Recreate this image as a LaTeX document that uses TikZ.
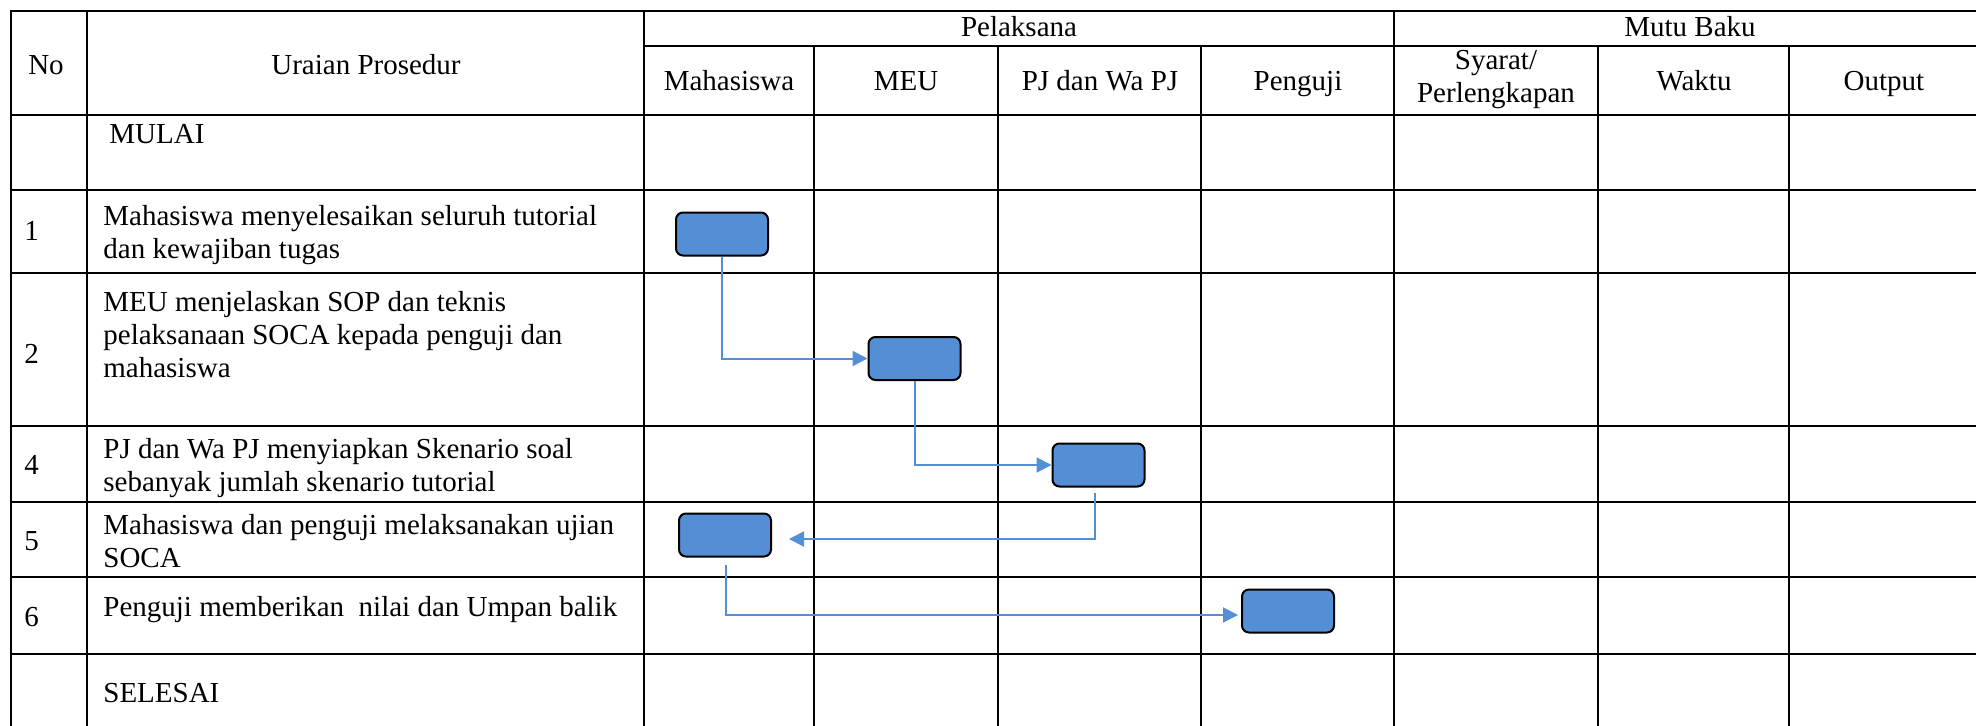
\documentclass[tikz,border=0pt]{standalone}
\usepackage{fontspec}
\setmainfont{Liberation Serif}
\usetikzlibrary{arrows.meta,calc}
\definecolor{boxblue}{RGB}{84,142,213}
\begin{document}
\begin{tikzpicture}[x=0.5pt,y=-0.5pt,
  grid/.style={line width=1pt, line cap=rect},
  txt/.style={font=\fontsize{14.5pt}{16.5pt}\selectfont, inner sep=0pt},
  hd/.style={txt, anchor=center, text height=10pt, text depth=3pt},
  hdtwo/.style={txt, anchor=center, align=center},
  body/.style={txt, anchor=north west, align=left},
  line/.style={txt, anchor=base west},
  num/.style={txt, anchor=west},
  task/.style={draw=black, line width=1pt, fill=boxblue, rounded corners=3.5pt,
    minimum width=46pt, minimum height=21.5pt, inner sep=0pt},
  flow/.style={draw=boxblue, line width=1pt, -{Triangle[length=7.5pt,width=7.5pt]}}]
\useasboundingbox (0,0) rectangle (1976,725);
% table grid
\foreach \y in {11,115,190,273,426,502,577,654}
  \draw[grid] (11,\y) -- (1980,\y);
\draw[grid] (644,46) -- (1980,46);
\foreach \x in {11,87,644,1394,1978}
  \draw[grid] (\x,11) -- (\x,735);
\foreach \x in {814,998,1201,1598,1789}
  \draw[grid] (\x,46) -- (\x,735);
% header
\node[hd] (hNo) at (46,67) {No};
\node[hd] (hUraian) at (366,67) {Uraian Prosedur};
\node[hd] (hPel) at (1019,29) {Pelaksana};
\node[hd] (hMutu) at (1690,29) {Mutu Baku};
\node[hd] (hMhs) at (729,83) {Mahasiswa};
\node[hd] (hMEU) at (906,83) {MEU};
\node[hd] (hPJ) at (1100,83) {PJ dan Wa PJ};
\node[hd] (hPenguji) at (1298,83) {Penguji};
\node[hdtwo] (hSyarat) at (1496,80) {Syarat/\\Perlengkapan};
\node[hd] (hWaktu) at (1694,83) {Waktu};
\node[hd] (hOutput) at (1884,83) {Output};
% body texts
\node[line] (tMulai) at (109,143) {MULAI};
\node[num] (n1) at (24,231) {1};
\node[body] (t1) at (103,202) {\strut Mahasiswa menyelesaikan seluruh tutorial\\dan kewajiban tugas};
\node[num] (n2) at (24,354) {2};
\node[body] (t2) at (103,288) {\strut MEU menjelaskan SOP dan teknis\\pelaksanaan SOCA kepada penguji dan\\mahasiswa};
\node[num] (n4) at (24,465) {4};
\node[body] (t4) at (103,435) {\strut PJ dan Wa PJ menyiapkan Skenario soal\\sebanyak jumlah skenario tutorial};
\node[num] (n5) at (24,541) {5};
\node[body] (t5) at (103,511) {\strut Mahasiswa dan penguji melaksanakan ujian\\SOCA};
\node[num] (n6) at (24,617) {6};
\node[line] (t6) at (103,616) {Penguji memberikan~ nilai dan Umpan balik};
\node[line] (tSelesai) at (103,702) {SELESAI};
% process boxes
\node[task] (b1) at (722,234) {};
\node[task] (b2) at (914.5,358.5) {};
\node[task] (b3) at (1098.5,465) {};
\node[task] (b4) at (725,535) {};
\node[task] (b5) at (1288,611) {};
% connectors
\draw[flow] (b1.south) |- (b2.west);
\draw[flow] (b2.south) |- (b3.west);
\draw[flow] ($(b3.south)+(-4,5)$) |- ($(b4.east)+(17,4)$);
\draw[flow] ($(b4.south)+(1,7)$) |- ($(b5.west)+(-3,4)$);
\end{tikzpicture}
\end{document}
